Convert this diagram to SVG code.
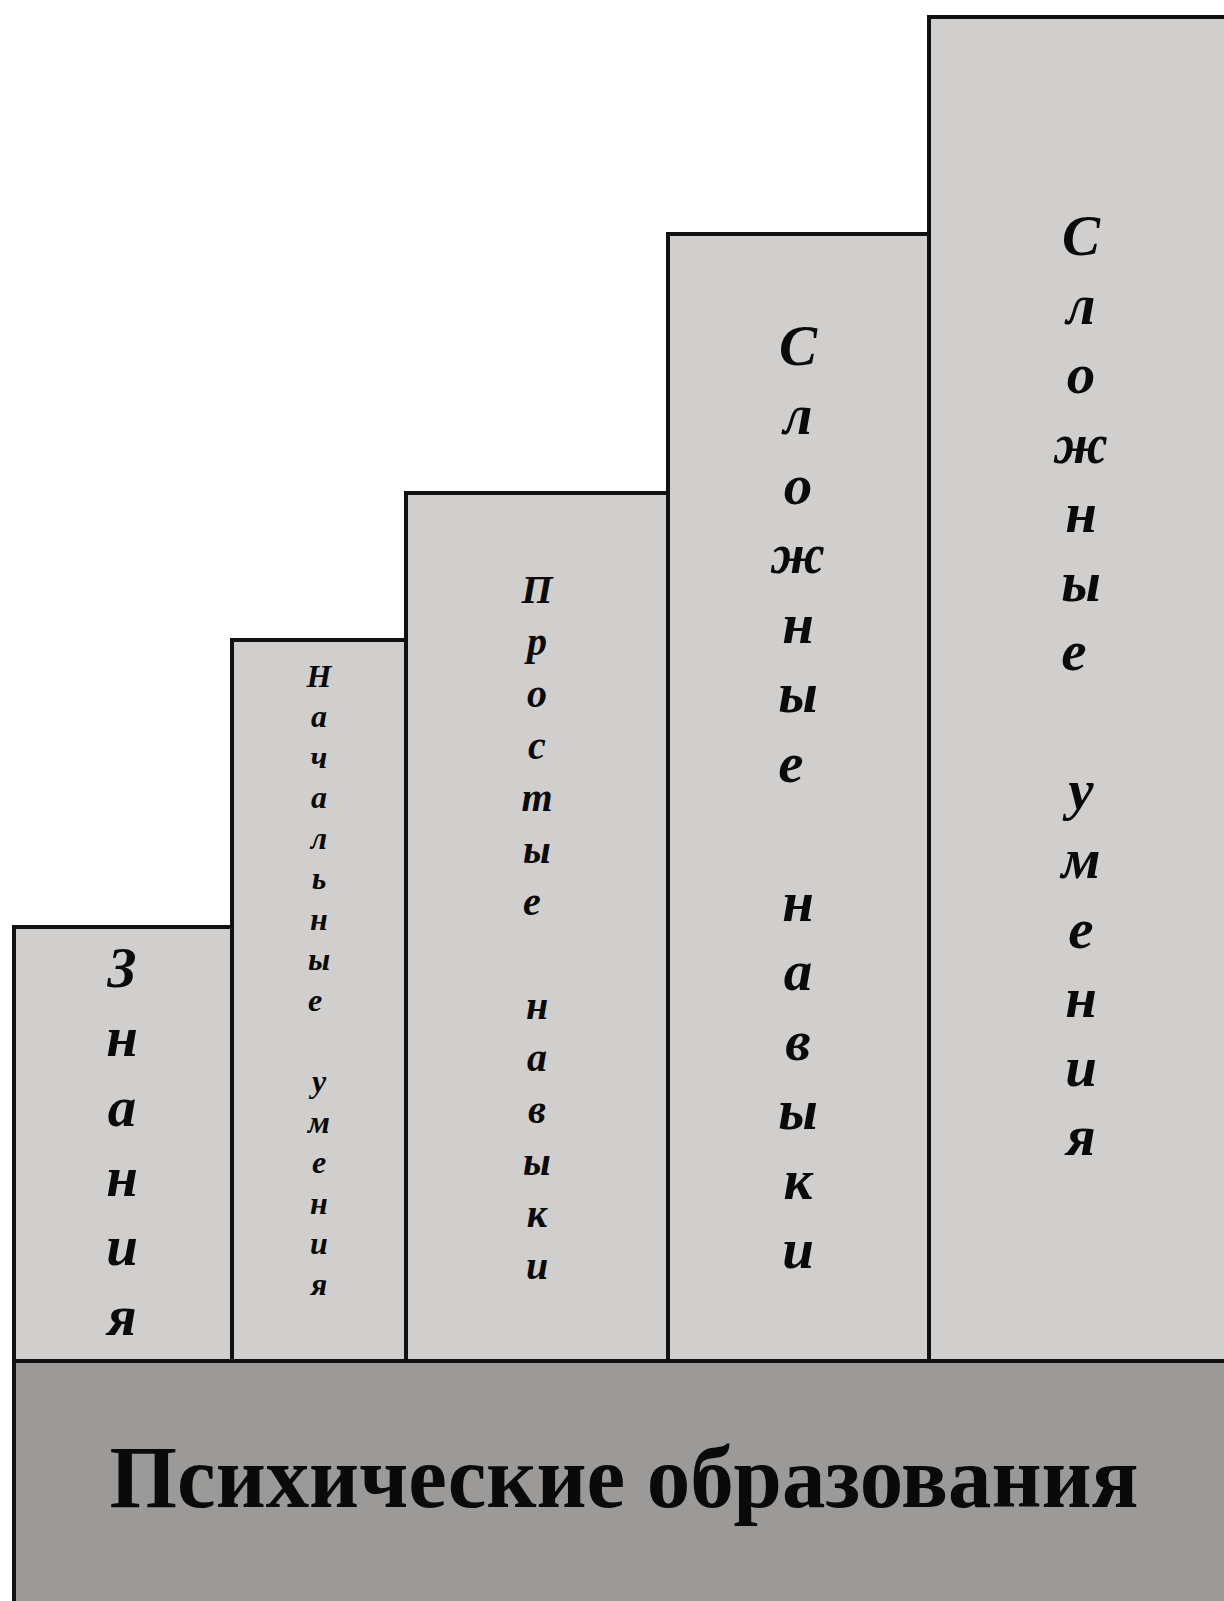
<svg xmlns="http://www.w3.org/2000/svg" width="1224" height="1601" viewBox="0 0 1224 1601">
<style>
.box{fill:#d0cfcd;stroke:#111;stroke-width:4}
.base{fill:#9b9a98;stroke:#111;stroke-width:4}
.v{font-family:"Liberation Serif","Times New Roman",serif;font-weight:bold;font-style:italic;text-anchor:middle;fill:#0a0a0a}
.t{font-family:"Liberation Serif","Times New Roman",serif;font-weight:bold;text-anchor:middle;fill:#0a0a0a}
</style>
<rect width="1224" height="1601" fill="#fff"/>
<g id="n5">
<rect class="box" x="929" y="17" width="320" height="1344"/>
<text class="v" font-size="57">
<tspan x="1081" y="255">С</tspan><tspan x="1081" y="324">л</tspan><tspan x="1081" y="393">о</tspan><tspan x="1081" y="463">ж</tspan><tspan x="1081" y="532">н</tspan><tspan x="1081" y="601">ы</tspan><tspan x="1081" y="670">е</tspan>
<tspan x="1081" y="809">у</tspan><tspan x="1081" y="878">м</tspan><tspan x="1081" y="948">е</tspan><tspan x="1081" y="1017">н</tspan><tspan x="1081" y="1086">и</tspan><tspan x="1081" y="1155">я</tspan>
</text>
</g>
<g id="n4">
<rect class="box" x="668" y="234" width="261" height="1127"/>
<text class="v" font-size="57">
<tspan x="798" y="365">С</tspan><tspan x="798" y="434">л</tspan><tspan x="798" y="504">о</tspan><tspan x="798" y="573">ж</tspan><tspan x="798" y="643">н</tspan><tspan x="798" y="712">ы</tspan><tspan x="798" y="782">е</tspan>
<tspan x="798" y="921">н</tspan><tspan x="798" y="990">а</tspan><tspan x="798" y="1060">в</tspan><tspan x="798" y="1129">ы</tspan><tspan x="798" y="1199">к</tspan><tspan x="798" y="1268">и</tspan>
</text>
</g>
<g id="n3">
<rect class="box" x="406" y="493" width="262" height="868"/>
<text class="v" font-size="40">
<tspan x="537" y="603">П</tspan><tspan x="537" y="655">р</tspan><tspan x="537" y="707">о</tspan><tspan x="537" y="759">с</tspan><tspan x="537" y="811">т</tspan><tspan x="537" y="863">ы</tspan><tspan x="537" y="915">е</tspan>
<tspan x="537" y="1019">н</tspan><tspan x="537" y="1071">а</tspan><tspan x="537" y="1123">в</tspan><tspan x="537" y="1175">ы</tspan><tspan x="537" y="1227">к</tspan><tspan x="537" y="1279">и</tspan>
</text>
</g>
<g id="n2">
<rect class="box" x="232" y="640" width="174" height="721"/>
<text class="v" font-size="32">
<tspan x="319" y="687">Н</tspan><tspan x="319" y="727">а</tspan><tspan x="319" y="768">ч</tspan><tspan x="319" y="808">а</tspan><tspan x="319" y="849">л</tspan><tspan x="319" y="889">ь</tspan><tspan x="319" y="930">н</tspan><tspan x="319" y="970">ы</tspan><tspan x="319" y="1011">е</tspan>
<tspan x="319" y="1092">у</tspan><tspan x="319" y="1133">м</tspan><tspan x="319" y="1173">е</tspan><tspan x="319" y="1214">н</tspan><tspan x="319" y="1254">и</tspan><tspan x="319" y="1295">я</tspan>
</text>
</g>
<g id="n1">
<rect class="box" x="14" y="927" width="218" height="434"/>
<text class="v" font-size="57">
<tspan x="122" y="987">З</tspan><tspan x="122" y="1056">н</tspan><tspan x="122" y="1126">а</tspan><tspan x="122" y="1196">н</tspan><tspan x="122" y="1265">и</tspan><tspan x="122" y="1335">я</tspan>
</text>
</g>
<g id="base">
<rect class="base" x="14" y="1361" width="1230" height="260"/>
<text class="t" x="624" y="1507" font-size="88" textLength="1029" lengthAdjust="spacingAndGlyphs">Психические образования</text>
</g>
<g id="connectors"/>
</svg>
